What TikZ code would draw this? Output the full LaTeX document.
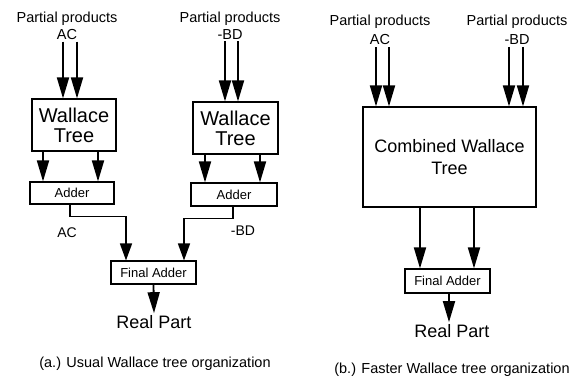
\documentclass[tikz,border=0pt]{standalone}
\usepackage{fontspec}
\setmainfont{Liberation Sans}
\usetikzlibrary{arrows.meta}
\usetikzlibrary{positioning}
\tikzset{
  box/.style={draw, line width=1.1pt, inner sep=0pt, align=center},
  lbl/.style={align=center, inner sep=2pt},
  arr/.style={line width=1.8pt, -{Triangle[length=21pt,width=12pt]}},
  arrs/.style={line width=1.6pt, -{Triangle[length=17pt,width=12pt]}},
}
\newcommand{\fs}[2]{\fontsize{#1}{#2}\selectfont}

\begin{document}
\begin{tikzpicture}[x=1pt, y=-1pt]
    \useasboundingbox (0,0) rectangle (582,377);

    % (a.)
    \node[lbl, font=\fs{14.5}{17}] (ppA) at (67,25.5) {Partial products\\AC};
    \node[lbl, font=\fs{14.5}{17}] (ppB) at (230,25.5) {Partial products\\-BD};

    \node[box, minimum width=84, minimum height=52, font=\fs{20}{20}] (wtA) at (74,125) {Wallace\\Tree};
    \node[box, minimum width=85, minimum height=52, font=\fs{20}{20}] (wtB) at (235.5,128) {Wallace\\Tree};

    \node[box, minimum width=84, minimum height=22, font=\fs{13}{14}] (adA) at (72,193) {Adder};
    \node[box, minimum width=86, minimum height=23, font=\fs{13}{14}] (adB) at (234,194.5) {Adder};

    \node[box, minimum width=85, minimum height=23, font=\fs{13}{14}] (faA) at (153.5,272.5) {Final Adder};
    \node[lbl, font=\fs{18}{20}] (rpA) at (154,322) {Real Part};

    \node[lbl, font=\fs{14}{16}] (acA) at (67,233) {AC};
    \node[lbl, font=\fs{14}{16}] (bdA) at (243,231) {-BD};

    \node[lbl, font=\fs{14.5}{16}] (capA) at (155,364) {(a.) Usual Wallace tree organization};

    \draw[arr] ([xshift=-11pt]wtA.north |- ppA.south) -- ([xshift=-11pt]wtA.north);
    \draw[arr] ([xshift=3pt]wtA.north |- ppA.south) -- ([xshift=3pt]wtA.north);
    \draw[arr] ([xshift=-10.5pt]wtB.north |- ppB.south) -- ([xshift=-10.5pt]wtB.north);
    \draw[arr] ([xshift=2.5pt]wtB.north |- ppB.south) -- ([xshift=2.5pt]wtB.north);

    \draw[arr] ([xshift=-31pt]wtA.south) -- ([xshift=-31pt]wtA.south |- adA.north);
    \draw[arr] ([xshift=24pt]wtA.south) -- ([xshift=24pt]wtA.south |- adA.north);
    \draw[arr] ([xshift=-30.5pt]wtB.south) -- ([xshift=-30.5pt]wtB.south |- adB.north);
    \draw[arr] ([xshift=24.5pt]wtB.south) -- ([xshift=24.5pt]wtB.south |- adB.north);

    \draw[arrs] ([xshift=-2pt]adA.south) -- ++(0,12) -| ([xshift=-27.5pt]faA.north);
    \draw[arrs] ([xshift=-1pt]adB.south) -- ++(0,12) -| ([xshift=30.5pt]faA.north);

    \draw[arr] (faA.south) -- (rpA.north);

    % (b.)
    \node[lbl, font=\fs{14.5}{19}] (ppC) at (380,30) {Partial products\\AC};
    \node[lbl, font=\fs{14.5}{19}] (ppD) at (517,30) {Partial products\\-BD};

    \node[box, minimum width=173, minimum height=100, font=\fs{18}{22}] (cwt) at (449.5,157) {Combined Wallace\\Tree};

    \node[box, minimum width=85, minimum height=24, font=\fs{13}{14}] (faB) at (447.5,281) {Final Adder};
    \node[lbl, font=\fs{18}{20}] (rpB) at (452,331) {Real Part};

    \node[lbl, font=\fs{14.5}{16}] (capB) at (452,370) {(b.) Faster Wallace tree organization};

    \draw[arr] ([xshift=-73.5pt]cwt.north |- ppC.south) -- ([xshift=-73.5pt]cwt.north);
    \draw[arr] ([xshift=-60.5pt]cwt.north |- ppC.south) -- ([xshift=-60.5pt]cwt.north);
    \draw[arr] ([xshift=59.5pt]cwt.north |- ppD.south) -- ([xshift=59.5pt]cwt.north);
    \draw[arr] ([xshift=73.5pt]cwt.north |- ppD.south) -- ([xshift=73.5pt]cwt.north);

    \draw[arr] ([xshift=-29.5pt]cwt.south) -- ([xshift=-29.5pt]cwt.south |- faB.north);
    \draw[arr] ([xshift=24.5pt]cwt.south) -- ([xshift=24.5pt]cwt.south |- faB.north);

    \draw[arr] ([xshift=1.5pt]faB.south) -- ([xshift=1.5pt]faB.south |- rpB.north);
\end{tikzpicture}
\end{document}
